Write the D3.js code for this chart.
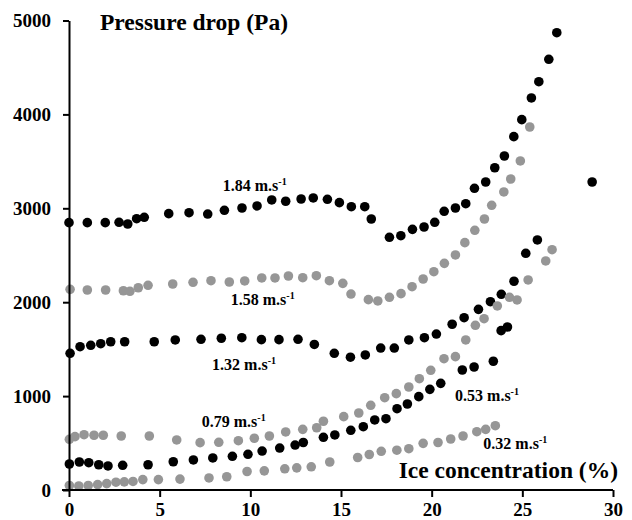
<!DOCTYPE html>
<html>
<head>
<meta charset="utf-8">
<script src="https://cdn.jsdelivr.net/npm/d3@7"></script>
<style>
    body { margin: 0; background: #fff; }
    text { font-family: "Liberation Serif", "Times New Roman", serif; font-weight: bold; }
</style>
</head>
<body>
<div id="chart"></div>
<script>
// ice concentration (%) , pressure drop (Pa)
const v184 = [[0,2847],[1.01,2847],[2.0,2847],[2.76,2851],[3.24,2833],[3.73,2889],[4.15,2904],[5.5,2943],[6.62,2953],[7.65,2939],[8.57,2979],[9.54,3003],[10.37,3025],[11.18,3089],[11.95,3075],[12.8,3099],[13.47,3110],[14.25,3096],[14.91,3060],[15.57,3017],[16.31,3017],[16.67,2886],[17.67,2691],[18.3,2708],[18.94,2776],[19.58,2801],[20.17,2851],[20.69,2968],[21.31,3003],[21.88,3049],[22.36,3213],[22.98,3280],[23.48,3432],[24.01,3557],[24.53,3763],[24.97,3944],[25.5,4175],[25.91,4348],[26.46,4587],[26.9,4870],[28.85,3280]];
const v158 = [[0.06,2137],[1.01,2130],[2.02,2130],[3.0,2122],[3.36,2116],[3.82,2154],[4.36,2180],[5.72,2194],[6.84,2212],[7.83,2229],[8.84,2215],[9.69,2226],[10.63,2258],[11.36,2258],[12.1,2279],[12.89,2261],[13.64,2282],[14.36,2229],[15.1,2201],[15.55,2087],[16.51,2027],[17.03,2013],[17.67,2052],[18.31,2091],[18.92,2165],[19.53,2247],[20.12,2325],[20.7,2414],[21.31,2503],[21.83,2634],[22.38,2766],[22.91,2886],[23.31,3032],[23.98,3174],[24.36,3312],[24.89,3504],[25.41,3866]];
const v132 = [[0.06,1456],[0.61,1526],[1.2,1541],[1.75,1558],[2.3,1579],[3.07,1579],[4.7,1579],[5.86,1598],[7.28,1605],[8.4,1616],[9.53,1622],[10.61,1601],[11.58,1601],[12.63,1605],[13.53,1550],[14.63,1456],[15.52,1414],[16.34,1438],[17.19,1512],[17.94,1512],[18.74,1598],[19.6,1622],[20.26,1661],[21.13,1765],[21.79,1835],[22.58,1924],[23.24,2005],[23.84,2084],[24.54,2223],[25.19,2521],[25.83,2663]];
const v079 = [[0.02,540],[0.33,568],[0.83,589],[1.38,583],[1.89,583],[2.88,575],[4.43,575],[5.94,533],[7.23,504],[8.26,508],[9.34,525],[10.22,551],[11.05,575],[11.95,618],[12.89,646],[13.66,663],[14.03,732],[15.15,781],[15.98,820],[16.64,902],[17.41,983],[18.05,1026],[18.74,1097],[19.32,1185],[19.95,1275],[20.68,1398],[21.31,1420],[21.88,1598],[22.41,1754],[22.89,1824],[23.62,1960],[24.29,2052],[24.71,2024],[25.32,2237],[26.29,2439],[26.64,2559]];
const v053 = [[0.02,277],[0.57,298],[1.09,291],[1.64,269],[2.15,256],[2.96,263],[4.36,269],[5.75,301],[6.86,320],[7.93,341],[9.01,359],[9.87,380],[10.65,415],[11.62,447],[12.47,479],[12.92,506],[14.03,561],[14.66,586],[15.54,636],[16.23,674],[16.86,746],[17.48,759],[18.09,866],[18.66,916],[19.29,994],[19.9,1072],[20.5,1136],[21.69,1278],[22.34,1310],[23.4,1371],[23.83,1697],[24.18,1736]];
const v032 = [[0.02,48],[0.54,43],[1.06,48],[1.58,58],[2.08,68],[2.59,83],[3.05,87],[3.53,91],[4.07,111],[4.93,111],[6.12,116],[7.72,128],[8.7,141],[9.82,197],[10.77,204],[11.9,226],[12.56,236],[13.36,247],[14.38,298],[15.92,346],[16.56,378],[17.22,412],[18.08,424],[18.74,440],[19.53,497],[20.35,506],[21.05,543],[21.73,575],[22.49,621],[22.98,646],[23.51,685]];

const speeds = ["1.84", "1.58", "1.32", "0.79", "0.53", "0.32"];
const seriesData = [v184, v158, v132, v079, v053, v032];
const xTicks = [0, 5, 10, 15, 20, 25, 30];
const yTicks = [0, 1000, 2000, 3000, 4000, 5000];

const margin = { top: 20.5, right: 19, bottom: 30, left: 69 };
const width = 632 - margin.left - margin.right;
const height = 520 - margin.top - margin.bottom;

const svg = d3.select("#chart")
    .append("svg")
    .attr("width", 632)
    .attr("height", 520)
    .append("g")
    .attr("transform", `translate(${margin.left},${margin.top})`);

const x = d3.scaleLinear().domain([0, 30]).range([0, width]);
const y = d3.scaleLinear().domain([0, 5000]).range([height, 0]);

const colors = ["#000", "#969696", "#000", "#969696", "#000", "#969696"];

// dots
seriesData.forEach((s, i) => {
    svg.append("g")
        .selectAll("circle")
        .data(s)
        .join("circle")
        .attr("cx", d => x(d[0]))
        .attr("cy", d => y(d[1]))
        .attr("r", 4.8)
        .attr("fill", colors[i]);
});

// axes
const xAxis = svg.append("g")
    .attr("transform", `translate(0,${height})`)
    .call(d3.axisBottom(x).tickValues(xTicks).tickFormat(d3.format("d"))
        .tickSize(7).tickSizeOuter(0).tickPadding(6));
const yAxis = svg.append("g")
    .call(d3.axisLeft(y).tickValues(yTicks).tickFormat(d3.format("d"))
        .tickSize(6).tickSizeOuter(0).tickPadding(12));

[xAxis, yAxis].forEach(a => {
    a.select(".domain").attr("stroke", "#000").attr("stroke-width", 2);
    a.selectAll(".tick line").attr("stroke", "#000").attr("stroke-width", 2);
    a.selectAll(".tick text")
        .attr("fill", "#000")
        .style("font-size", "19px")
        .style("font-family", "'Liberation Serif', serif")
        .style("font-weight", "bold");
});
// x axis line runs a little left of the y axis
xAxis.select(".domain").attr("d", `M-7,0H${width}`);

// axis titles
svg.append("text")
    .attr("x", 31)
    .attr("y", 9.5)
    .style("font-size", "23.5px")
    .text("Pressure drop (Pa)");

svg.append("text")
    .attr("x", width + 5)
    .attr("y", height - 12)
    .attr("text-anchor", "end")
    .style("font-size", "23.5px")
    .text("Ice concentration (%)");

// series labels
const labelPos = [[8.48, 3184], [8.92, 1970], [7.89, 1278], [7.32, 671], [21.29, 948], [22.85, 437]];
speeds.forEach((sp, i) => {
    const t = svg.append("text")
        .attr("x", x(labelPos[i][0]))
        .attr("y", y(labelPos[i][1]))
        .style("font-size", "16px");
    t.append("tspan").text(`${sp} m.s`);
    t.append("tspan").attr("dy", -6).style("font-size", "10px").text("-1");
});
</script>
</body>
</html>
